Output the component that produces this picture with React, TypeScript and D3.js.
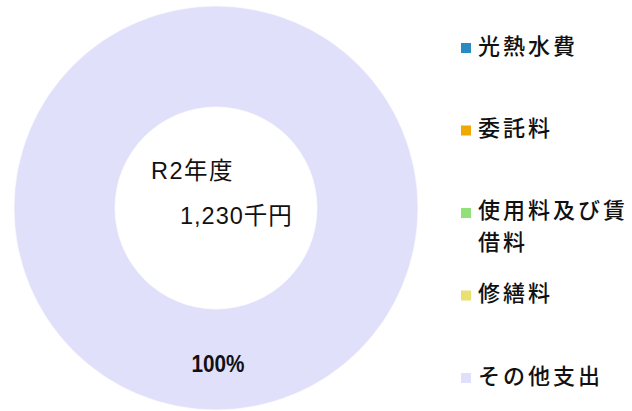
import { useEffect, useRef } from "react";
import * as d3 from "d3";

const categories = ["光熱水費", "委託料", "使用料及び賃借料", "修繕料", "その他支出"];
const legendLines = [["光熱水費"], ["委託料"], ["使用料及び賃", "借料"], ["修繕料"], ["その他支出"]];
const values = [0, 0, 0, 0, 1230];
const colors = ["#2a8bc3", "#eeaa00", "#92e07a", "#e8e070", "#e0e0fa"];
const centerLabels = ["R2年度", "1,230千円"];

const FONT = "'Liberation Sans', 'Noto Sans CJK JP', sans-serif";

export default function App() {
  const ref = useRef<SVGSVGElement>(null);

  useEffect(() => {
    const width = 632;
    const height = 411;
    const svg = d3.select(ref.current).attr("width", width).attr("height", height);
    svg.selectAll("*").remove();

    const cx = 216;
    const cy = 208;
    const outer = 202;
    const inner = 101;

    const pie = d3.pie<number>().sort(null).value((d) => d);
    const arcs = pie(values);
    const arc = d3.arc<d3.PieArcDatum<number>>().innerRadius(inner).outerRadius(outer);
    const total = d3.sum(values);

    const g = svg.append("g").attr("transform", `translate(${cx},${cy})`);

    g.selectAll("path")
      .data(arcs)
      .enter()
      .append("path")
      .attr("d", arc)
      .attr("fill", (d, i) => colors[i])
      .attr("stroke", "#ffffff")
      .attr("stroke-opacity", 0.6)
      .attr("stroke-width", 1);

    // percentage labels (only non-zero slices), condensed bold face
    g.selectAll("text.pct")
      .data(arcs.filter((d) => d.value > 0))
      .enter()
      .append("text")
      .attr("class", "pct")
      .attr("x", (d) => arc.centroid(d)[0] + 2)
      .attr("y", (d) => arc.centroid(d)[1] + 6)
      .attr("text-anchor", "middle")
      .attr("dominant-baseline", "middle")
      .attr("font-family", "'Liberation Sans', Arial, sans-serif")
      .attr("font-weight", "bold")
      .attr("font-size", "24px")
      .attr("textLength", 53)
      .attr("lengthAdjust", "spacingAndGlyphs")
      .attr("fill", "#111")
      .text((d) => `${Math.round((d.value / total) * 100)}%`);

    // center text
    svg
      .append("text")
      .attr("x", 151)
      .attr("y", 173)
      .attr("dominant-baseline", "middle")
      .attr("font-family", FONT)
      .attr("font-size", "23.5px")
      .attr("letter-spacing", "1.5px")
      .attr("fill", "#111")
      .text(centerLabels[0]);

    svg
      .append("text")
      .attr("x", 180)
      .attr("y", 218)
      .attr("dominant-baseline", "middle")
      .attr("font-family", FONT)
      .attr("font-size", "23.5px")
      .attr("letter-spacing", "1px")
      .attr("fill", "#111")
      .text(centerLabels[1]);

    // legend
    const legendY = d3.scalePoint<string>().domain(categories).range([48, 378]);
    const legend = svg
      .selectAll("g.legend")
      .data(categories)
      .enter()
      .append("g")
      .attr("class", "legend")
      .attr("transform", (d) => `translate(461,${legendY(d)})`);

    legend
      .append("rect")
      .attr("x", 0)
      .attr("y", -5)
      .attr("width", 10)
      .attr("height", 10)
      .attr("fill", (d, i) => colors[i]);

    legend.each(function (d, i) {
      const lines = legendLines[i];
      lines.forEach((line, j) => {
        d3.select(this)
          .append("text")
          .attr("x", 17)
          .attr("y", j * 32 - (lines.length > 1 ? 1 : 0))
          .attr("dominant-baseline", "middle")
          .attr("font-family", FONT)
          .attr("font-size", "22px")
          .attr("font-weight", 500)
          .attr("letter-spacing", "3px")
          .attr("fill", "#111")
          .text(line);
      });
    });
  }, []);

  return (
    <div>
      <svg ref={ref} style={{ display: "block", position: "absolute", left: 0, top: 0 }} />
    </div>
  );
}
